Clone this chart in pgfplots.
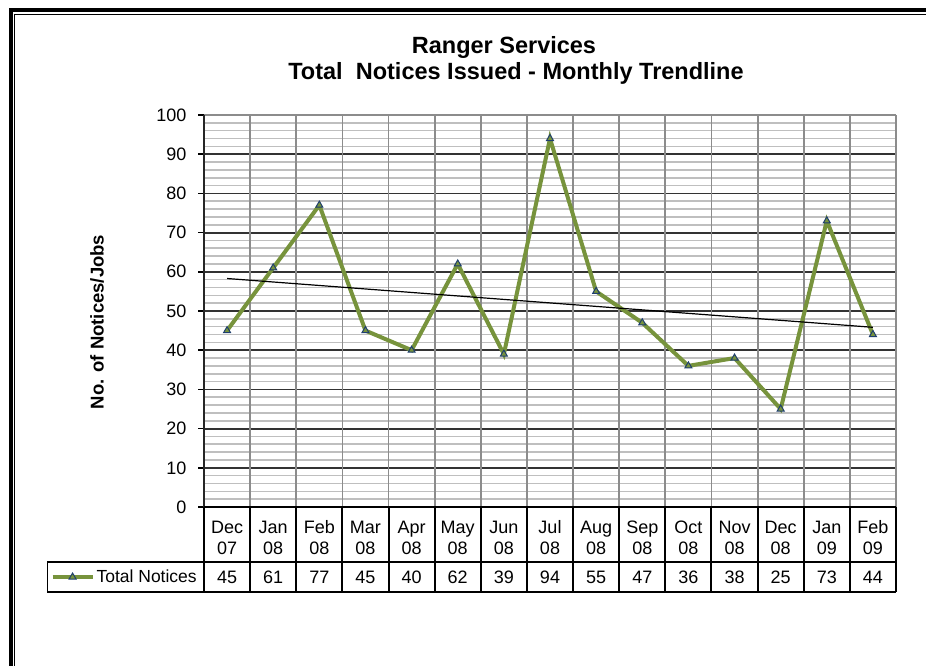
\documentclass[border=0pt]{standalone}
\usepackage{fontspec}
\setmainfont{Liberation Sans}
\usepackage{pgfplots}
\usepackage{pgfplotstable}
\pgfplotsset{compat=1.18}
\definecolor{olive}{HTML}{77933C}
\definecolor{navy}{HTML}{1F3F6F}
\pgfplotstableread{
x y
0 45
1 61
2 77
3 45
4 40
5 62
6 39
7 94
8 55
9 47
10 36
11 38
12 25
13 73
14 44
}\datatab
\begin{document}
\begin{tikzpicture}
\useasboundingbox (0pt,0pt) rectangle (926pt,-666pt);
\begin{scope}
\clip (0pt,0pt) rectangle (926pt,-666pt);
% frame
\draw[line width=4pt] (10.5pt,-700pt) -- (10.5pt,-10.5pt) -- (960pt,-10.5pt);
\draw[line width=1pt] (14.5pt,-700pt) -- (14.5pt,-14.8pt) -- (960pt,-14.8pt);
\end{scope}
% title
\node[font=\fontsize{23.5}{26}\selectfont\bfseries, anchor=base] at (504pt,-53.5pt) {Ranger Services};
\node[font=\fontsize{23.5}{26}\selectfont\bfseries, anchor=base] at (516pt,-80pt) {Total\ \ Notices Issued - Monthly Trendline};
\node[font=\fontsize{18.5}{20}\selectfont\bfseries, rotate=90] at (97pt,-322pt) {No. of Notices/Jobs};
\begin{axis}[
  at={(204pt,-115pt)}, anchor=north west,
  scale only axis, width=692pt, height=392pt,
  xmin=-0.5, xmax=14.5, ymin=0, ymax=100,
  clip=false,
  axis line style={draw=none},
  ytick={0,10,...,100},
  minor ytick={2,4,...,98},
  ytick pos=left,
  ymajorgrids, yminorgrids,
  major grid style={line width=1.8pt, color=black!80},
  minor grid style={line width=1.6pt, color=black!25},
  xtick={0,...,14},
  xticklabels={{\strut Dec\\07},{\strut Jan\\08},{\strut Feb\\08},{\strut Mar\\08},{\strut Apr\\08},{\strut May\\08},{\strut Jun\\08},{\strut Jul\\08},{\strut Aug\\08},{\strut Sep\\08},{\strut Oct\\08},{\strut Nov\\08},{\strut Dec\\08},{\strut Jan\\09},{\strut Feb\\09}},
  xticklabel style={align=center, anchor=north, font=\fontsize{18}{21}\selectfont, yshift=-2pt},
  xtick style={draw=none},
  ytick style={line width=1.5pt, black},
  minor tick length=0pt,
  tick align=outside, major tick length=6pt,
  yticklabel style={font=\fontsize{18}{20}\selectfont, xshift=-8pt},
  /pgf/number format/assume math mode=true,
  legend style={at={(axis cs:-3.83,-17.86)}, anchor=west, draw=none, fill=none,
    font=\fontsize{17.5}{20}\selectfont, inner sep=0pt,
    legend cell align=left},
  legend image code/.code={\draw[mark repeat=2,mark phase=2,#1] plot coordinates {(0pt,0pt) (20pt,0pt) (40pt,0pt)};},
]
% vertical category gridlines
\pgfplotsinvokeforeach{0.5,1.5,...,13.5}{
  \draw[black!45, line width=1.8pt] (axis cs:#1,0) -- (axis cs:#1,100);
}
\draw[black!45, line width=1.8pt] (axis cs:14.5,0) -- (axis cs:14.5,100);
\draw[black!45, line width=1.8pt] (axis cs:-0.5,100) -- (axis cs:14.5,100);
\draw[black!85, line width=2pt] (axis cs:-0.5,0) -- (axis cs:-0.5,100);
% data table lines
\pgfplotsinvokeforeach{0.5,1.5,...,14.5}{
  \draw[black, line width=2pt] (axis cs:#1,0) -- (axis cs:#1,-21.68);
}
\draw[black, line width=2pt] (axis cs:-0.5,0) -- (axis cs:-0.5,-21.68);
\draw[black, line width=2pt] (axis cs:-0.5,0) -- (axis cs:14.5,0);
\draw[black, line width=2pt] (axis cs:-3.9,-14.03) -- (axis cs:14.5,-14.03);
\draw[black, line width=2pt] (axis cs:-3.9,-21.68) -- (axis cs:14.5,-21.68);
\draw[black, line width=1.2pt] (axis cs:-3.9,-14.03) -- (axis cs:-3.9,-21.68);
% series
\addplot[olive, line width=4pt, mark=triangle*, mark size=4pt,
  mark options={fill=olive, draw=navy, line width=1pt}] table[x=x,y=y] {\datatab};
\addlegendentry{Total Notices}
% trendline
\addplot[black, line width=1.2pt, forget plot] coordinates {(0,58.29) (14,45.84)};
% values row
\addplot[draw=none, mark=none, forget plot, nodes near coords, point meta=\thisrow{y},
  nodes near coords style={anchor=center, font=\fontsize{18}{20}\selectfont}]
  table[x=x, y expr=-17.86] {\datatab};
\end{axis}
\end{tikzpicture}
\end{document}
